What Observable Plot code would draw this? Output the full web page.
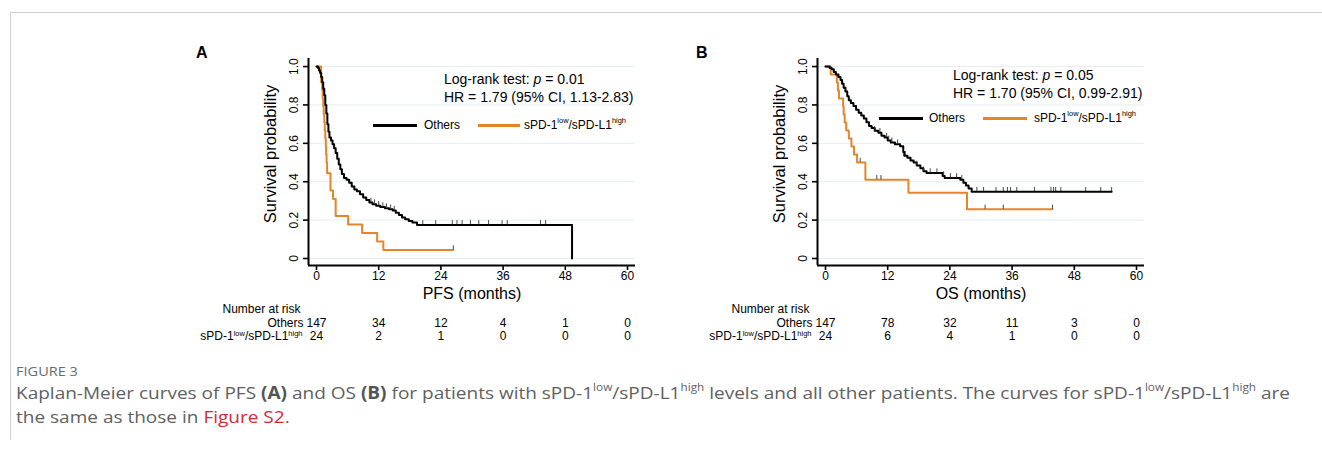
<!DOCTYPE html>
<html>
<head>
<meta charset="utf-8">
<script src="https://cdn.jsdelivr.net/npm/d3@7"></script>
<script src="https://cdn.jsdelivr.net/npm/@observablehq/plot@0.6"></script>
<style>
html, body { margin: 0; padding: 0; background: #fff; }
#fig { position: relative; width: 1322px; height: 450px; overflow: hidden; background: #fff;
  font-family: "Liberation Sans", Arial, Helvetica, sans-serif; color: #000; }
.frame { position: absolute; left: 10px; top: 12px; right: -2px; bottom: 10px;
  border-top: 1px solid #cfcfcf; border-left: 1px solid #cfcfcf; }
.abs { position: absolute; white-space: nowrap; }
.letter { font-weight: bold; font-size: 16px; line-height: 16px; }
.annot { font-size: 14px; line-height: 16px; }
.leg { font-size: 12px; line-height: 14px; }
.leg sup, .cap sup { font-size: 0.62em; line-height: 0; position: relative; top: -0.15em; vertical-align: super; }
.swatch { position: absolute; height: 3px; }
.cap-title { font-family: "Open Sans", "Noto Sans", sans-serif; font-size: 13px; color: #6b6b6b; line-height: 14px; transform-origin: 0 50%; }
.cap { font-family: "Open Sans", "Noto Sans", sans-serif; font-size: 17px; color: #5f5f5f; line-height: 20px; transform-origin: 0 50%; }
.cap b { color: #555; font-weight: 700; }
.cap .red { color: #d42a33; }
</style>
</head>
<body>
<div id="fig">
  <div class="frame"></div>
</div>
<script>
// ---------- data ----------
const months = [0, 12, 24, 36, 48, 60];
const survTicks = [0, 0.2, 0.4, 0.6, 0.8, 1.0];
const groups = ["Others", "sPD-1low/sPD-L1high"];

// Panel A: PFS
const pfsOthersT = [0, 0.3, 0.5, 0.7, 0.9, 1.1, 1.3, 1.5, 1.7, 1.9, 2.1, 2.3, 2.5, 2.8, 3.1, 3.4, 3.7, 4.0, 4.3, 4.6, 4.9, 5.3, 5.8, 6.3, 6.8, 7.3, 7.8, 8.4, 9.0, 9.6, 10.2, 10.8, 11.5, 12.3, 13.2, 14.0, 14.7, 15.3, 15.9, 16.5, 17.1, 17.8, 18.5, 19.4, 49.3];
const pfsOthersS = [1.0, 0.993, 0.98, 0.966, 0.946, 0.918, 0.884, 0.85, 0.80, 0.755, 0.70, 0.66, 0.63, 0.615, 0.595, 0.575, 0.55, 0.52, 0.49, 0.465, 0.44, 0.42, 0.41, 0.395, 0.375, 0.36, 0.35, 0.335, 0.318, 0.305, 0.292, 0.283, 0.275, 0.268, 0.262, 0.257, 0.25, 0.238, 0.226, 0.214, 0.204, 0.195, 0.188, 0.175, 0.0];
const pfsOthersCens = [10.5, 11.2, 12.0, 12.8, 13.5, 14.3, 15.0, 20.5, 23.0, 26.2, 27.1, 28.1, 29.7, 31.3, 33.2, 35.8, 36.8, 43.2, 44.2];
const pfsSpdT = [0, 0.9, 1.1, 1.2, 1.3, 1.4, 1.5, 1.6, 1.7, 1.8, 1.85, 1.95, 2.05, 2.7, 3.2, 3.7, 6.1, 8.8, 11.7, 12.9, 26.4];
const pfsSpdS = [1.0, 0.917, 0.875, 0.833, 0.792, 0.75, 0.708, 0.667, 0.625, 0.583, 0.542, 0.5, 0.444, 0.354, 0.31, 0.222, 0.177, 0.133, 0.089, 0.044, 0.044];
const pfsSpdCens = [26.4];
const pfsRiskOthers = [147, 34, 12, 4, 1, 0];
const pfsRiskSpd = [24, 2, 1, 0, 0, 0];

// Panel B: OS
const osOthersT = [0, 0.8, 1.2, 1.6, 2.0, 2.5, 2.9, 3.2, 3.5, 3.85, 4.2, 4.5, 4.9, 5.4, 5.9, 6.4, 6.9, 7.4, 7.9, 8.4, 8.9, 9.5, 10.2, 10.8, 11.4, 12.0, 12.6, 13.4, 14.4, 15.0, 15.2, 15.8, 16.4, 17.0, 17.6, 18.3, 18.9, 19.5, 22.6, 23.0, 26.0, 26.6, 27.1, 27.6, 28.2, 55.2];
const osOthersS = [1.0, 0.993, 0.986, 0.972, 0.958, 0.945, 0.93, 0.91, 0.89, 0.87, 0.845, 0.825, 0.81, 0.795, 0.775, 0.76, 0.745, 0.73, 0.71, 0.69, 0.68, 0.665, 0.655, 0.64, 0.63, 0.615, 0.605, 0.595, 0.585, 0.555, 0.535, 0.525, 0.51, 0.5, 0.485, 0.47, 0.455, 0.445, 0.43, 0.42, 0.41, 0.395, 0.38, 0.365, 0.348, 0.348];
const osOthersCens = [9.5, 10.5, 11.8, 12.2, 12.8, 13.9, 15.4, 17.6, 18.9, 20.2, 21.5, 22.8, 24.1, 25.3, 26.3, 29.2, 30.5, 32.9, 34.3, 35.1, 35.7, 36.9, 40.3, 43.5, 44.0, 44.4, 45.4, 50.2, 53.1, 55.2];
const osSpdT = [0, 1.0, 2.2, 2.4, 2.6, 3.4, 3.5, 3.7, 4.0, 4.5, 5.0, 5.5, 6.1, 7.7, 16.0, 27.3, 43.8];
const osSpdS = [1.0, 0.958, 0.917, 0.875, 0.833, 0.792, 0.75, 0.708, 0.667, 0.625, 0.583, 0.542, 0.5, 0.41, 0.342, 0.256, 0.256];
const osSpdCens = [6.7, 9.9, 10.7, 30.8, 34.3, 43.8];
const osRiskOthers = [147, 78, 32, 11, 3, 0];
const osRiskSpd = [24, 6, 4, 1, 0, 0];

// ---------- styling constants ----------
const BLACK = "#000000";
const ORANGE = "#e5852b";
const GRID = "#e6edf2";
const X_DOMAIN = [-1.54, 61.54];
const Y_DOMAIN = [-0.0365, 1.042];

function rows(T, S) { return T.map((t, i) => ({t, s: S[i]})); }
function stepAt(data, t) { let s = data[0].s; for (const d of data) if (d.t <= t) s = d.s; return s; }
function censRows(data, C) { return C.map(t => ({t, s: stepAt(data, t)})); }

function panel(cfg) {
  const others = rows(cfg.othersT, cfg.othersS);
  const spd = rows(cfg.spdT, cfg.spdS);
  const cO = censRows(others, cfg.othersCens);
  const cS = censRows(spd, cfg.spdCens);
  const risk = months.map((t, i) => ({t, o: cfg.riskO[i], s: cfg.riskS[i]}));
  const fmt = d => d === 0 ? "0" : d.toFixed(1);
  return Plot.plot({
    width: 460, height: 300,
    marginLeft: 118, marginRight: 15, marginTop: 18, marginBottom: 75,
    x: {domain: X_DOMAIN},
    y: {domain: Y_DOMAIN},
    style: {fontFamily: '"Liberation Sans", Arial, Helvetica, sans-serif', fontSize: "12px", color: "#000", background: "transparent", overflow: "visible"},
    marks: [
      Plot.gridY(survTicks, {stroke: GRID, strokeOpacity: 1, strokeWidth: 1}),
      Plot.axisX(months, {tickSize: 5, tickPadding: 1, strokeWidth: 1.6, fontSize: 12, label: null}),
      Plot.axisY(survTicks, {tickSize: 5, strokeWidth: 1.6, tickFormat: () => "", label: null}),
      Plot.text(survTicks, {y: d => d, text: fmt, frameAnchor: "left", textAnchor: "middle", dx: -14, rotate: -90, fontSize: 12}),
      Plot.ruleY([Y_DOMAIN[0]], {stroke: "#000", strokeWidth: 2}),
      Plot.ruleX([X_DOMAIN[0]], {y1: Y_DOMAIN[0], y2: Y_DOMAIN[1], stroke: "#000", strokeWidth: 2}),
      Plot.text(["Survival probability"], {frameAnchor: "left", textAnchor: "middle", rotate: -90, dx: -38, dy: -8, fontSize: 16.5}),
      Plot.text([cfg.xlabel], {frameAnchor: "bottom", dy: 33, fontSize: 16}),
      // curves
      Plot.line(spd, {x: "t", y: "s", curve: "step-after", stroke: ORANGE, strokeWidth: 2}),
      Plot.line(others, {x: "t", y: "s", curve: "step-after", stroke: BLACK, strokeWidth: 2}),
      Plot.ruleX(cO, {x: "t", y1: "s", y2: d => d.s + 0.022, stroke: "#333", strokeWidth: 0.9}),
      Plot.ruleX(cS, {x: "t", y1: "s", y2: d => d.s + 0.022, stroke: "#333", strokeWidth: 0.9}),
      // risk table
      Plot.text(["Number at risk"], {frameAnchor: "bottom-left", dx: -8, dy: 47.5, textAnchor: "end", fontSize: 12}),
      Plot.text([groups[0]], {frameAnchor: "bottom-left", dx: -5, dy: 61.5, textAnchor: "end", fontSize: 12}),
      Plot.text([groups[1]], {frameAnchor: "bottom-left", dx: -6, dy: 74.5, textAnchor: "end", fontSize: 12}),
      Plot.text(risk, {x: "t", text: "o", frameAnchor: "bottom", dy: 61.5, fontSize: 12}),
      Plot.text(risk, {x: "t", text: "s", frameAnchor: "bottom", dy: 74.5, fontSize: 12})
    ]
  });
}

function supify(svg) {
  const ns = "http://www.w3.org/2000/svg";
  svg.querySelectorAll("text").forEach(el => {
    if (el.textContent !== groups[1]) return;
    const parts = [["sPD-1", false], ["low", true], ["/sPD-L1", false], ["high", true]];
    el.textContent = "";
    let raised = false;
    for (const [s, sup] of parts) {
      const ts = document.createElementNS(ns, "tspan");
      ts.textContent = s;
      if (sup) { ts.setAttribute("font-size", "7.5"); if (!raised) { ts.setAttribute("dy", "-4"); raised = true; } }
      else if (raised) { ts.setAttribute("dy", "4"); raised = false; }
      el.appendChild(ts);
    }
  });
}

const fig = document.getElementById("fig");
function place(node, left, top) { node.style.position = "absolute"; node.style.left = left + "px"; node.style.top = top + "px"; fig.appendChild(node); return node; }
function html(str, cls, left, top) { const d = document.createElement("div"); d.className = "abs " + cls; d.innerHTML = str; return place(d, left, top); }
function swatch(color, x1, x2, y) { const d = document.createElement("div"); d.className = "swatch"; d.style.background = color; d.style.width = (x2 - x1) + "px"; return place(d, x1, y - 1.5); }

const svgA = panel({othersT: pfsOthersT, othersS: pfsOthersS, othersCens: pfsOthersCens, spdT: pfsSpdT, spdS: pfsSpdS, spdCens: pfsSpdCens, riskO: pfsRiskOthers, riskS: pfsRiskSpd, xlabel: "PFS (months)"});
const svgB = panel({othersT: osOthersT, othersS: osOthersS, othersCens: osOthersCens, spdT: osSpdT, spdS: osSpdS, spdCens: osSpdCens, riskO: osRiskOthers, riskS: osRiskSpd, xlabel: "OS (months)"});
supify(svgA); supify(svgB);
place(svgA, 190, 40);
place(svgB, 699, 40);

const supLabel = 'sPD-1<sup>low</sup>/sPD-L1<sup>high</sup>';
// Panel letters
html("A", "letter", 196, 45);
html("B", "letter", 696, 45);
// Annotations
html('Log-rank test: <i>p</i> = 0.01', "annot", 444, 71);
html('HR = 1.79 (95% CI, 1.13-2.83)', "annot", 444, 89);
html('Log-rank test: <i>p</i> = 0.05', "annot", 953, 67);
html('HR = 1.70 (95% CI, 0.99-2.91)', "annot", 953, 85);
// Legends
swatch(BLACK, 373, 417, 125); html(groups[0], "leg", 424, 118);
swatch(ORANGE, 478, 520, 125); html(supLabel, "leg", 524, 118);
swatch(BLACK, 879, 923, 118); html(groups[0], "leg", 929, 111);
swatch(ORANGE, 983, 1027, 118); html(supLabel, "leg", 1034, 111);

// Caption
const capTitle = html("FIGURE 3", "cap-title", 16, 364);
const cap1 = html('Kaplan-Meier curves of PFS <b>(A)</b> and OS <b>(B)</b> for patients with ' + supLabel + ' levels and all other patients. The curves for ' + supLabel + ' are', "cap", 16, 383);
const cap2 = html('the same as those in <span class="red">Figure S2</span>.', "cap", 16, 407);
const target = 1290 - 16;
const w = cap1.getBoundingClientRect().width;
const k = target / w;
for (const el of [capTitle, cap1, cap2]) el.style.transform = "scaleX(" + k + ")";
</script>
</body>
</html>
